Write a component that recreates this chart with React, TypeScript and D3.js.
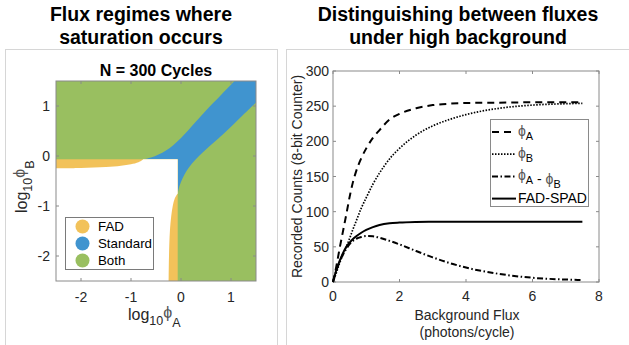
import React from "react";
import * as d3 from "d3";

// ---------- Left panel data (log10 flux coordinates) ----------
const regionNames = ["FAD", "Standard", "Both"];
const regionColors = ["#F2C25A", "#4094CF", "#99BF60"];
const logTicks = [-2, -1, 0, 1];
const satLevel = -0.066; // log10 flux where saturation starts
// Standard/Both boundary above the diagonal: [log10 phiA, log10 phiB]
const stdUpperA = [-0.75, -0.6, -0.45, -0.3, -0.15, 0.0, 0.15, 0.3, 0.5, 0.8, 1.07];
const stdUpperB = [-0.066, -0.03, 0.03, 0.11, 0.22, 0.36, 0.52, 0.69, 0.91, 1.22, 1.5];
// Standard/Both boundary below the diagonal
const stdLowerA = [-0.066, -0.03, 0.03, 0.11, 0.22, 0.36, 0.52, 0.69, 0.91, 1.22, 1.5];
const stdLowerB = [-0.75, -0.6, -0.45, -0.3, -0.15, 0.0, 0.15, 0.3, 0.5, 0.8, 1.07];
// FAD / none boundary (horizontal arm)
const fadHorizA = [-2.5, -2.0, -1.5, -1.2, -1.0, -0.85, -0.75];
const fadHorizB = [-0.246, -0.24, -0.222, -0.195, -0.165, -0.125, -0.066];
// FAD / none boundary (vertical arm)
const fadVertA = [-0.066, -0.125, -0.165, -0.195, -0.222, -0.24, -0.246];
const fadVertB = [-0.75, -0.85, -1.0, -1.2, -1.5, -2.0, -2.5];

// ---------- Right panel data ----------
const backgroundFlux = [0, 0.1, 0.2, 0.3, 0.4, 0.5, 0.6, 0.7, 0.85, 1.0, 1.2, 1.4, 1.7, 2.0, 2.5, 3.0, 3.5, 4.0, 5.0, 6.0, 7.0, 7.5];
const countsA = [0, 22, 48, 72, 96, 121, 142, 158, 176, 190, 205, 216, 231, 239, 247, 251.5, 253.5, 254.5, 255, 255.5, 255.5, 255.5];
const countsB = [0, 13, 27, 39, 50, 62, 75, 87, 105, 120, 139, 155, 175, 190, 209, 222, 231, 238, 247, 251.5, 253.5, 254];
const countsDiff = [0, 16, 29, 39, 47, 54, 58.5, 61.5, 64, 65.3, 65, 63, 58.5, 53.5, 44, 35, 27, 20.5, 11.5, 6, 3.5, 2.8];
const countsFad = [0, 17, 30, 41, 50, 56, 61, 65, 70, 74, 78, 81, 83.5, 84.5, 85.3, 85.6, 85.8, 85.8, 85.8, 85.8, 85.8, 85.8];
const fluxTicks = [0, 2, 4, 6, 8];
const countTicks = [0, 50, 100, 150, 200, 250, 300];

const FONT = "'Liberation Sans', Arial, sans-serif";
const AXIS = "#8a8a8a";
const TXT = "#262626";

export default function App() {
  // ----- left scales -----
  const xL = d3.scaleLinear().domain([-2.5, 1.5]).range([56, 256]);
  const yL = d3.scaleLinear().domain([-2.5, 1.5]).range([281, 81]);
  const lineL = d3
    .line<[number, number]>()
    .x((d) => xL(d[0]))
    .y((d) => yL(d[1]))
    .curve(d3.curveCatmullRom);
  const zip = (a: number[], b: number[]) => a.map((v, i) => [v, b[i]] as [number, number]);
  const P = (a: number, b: number) => `L${xL(a)},${yL(b)}`;

  const upper = zip(stdUpperA, stdUpperB);
  const lower = zip(stdLowerA, stdLowerB).reverse();
  const bluePath =
    lineL(upper)! +
    P(1.5, 1.5) +
    P(1.5, 1.07) +
    lineL(lower)!.replace(/^M/, "L") +
    P(satLevel, satLevel) +
    "Z";
  const whitePath =
    `M${xL(-2.5)},${yL(-2.5)}` +
    lineL(zip(fadHorizA, fadHorizB))!.replace(/^M/, "L") +
    P(satLevel, satLevel) +
    lineL(zip(fadVertA, fadVertB))!.replace(/^M/, "L") +
    "Z";

  // ----- right scales -----
  const xR = d3.scaleLinear().domain([0, 8]).range([333, 599]);
  const yR = d3.scaleLinear().domain([0, 300]).range([282, 71]);
  const lineR = d3
    .line<number>()
    .x((_, i) => xR(backgroundFlux[i]))
    .y((d) => yR(d))
    .curve(d3.curveMonotoneX);

  const series = [
    { vals: countsA, dash: "7,5", w: 2, sub: ["A"] },
    { vals: countsB, dash: "1.5,1.5", w: 1.7, sub: ["B"] },
    { vals: countsDiff, dash: "6,2.5,1.5,2.5", w: 2, sub: ["A", "B"] },
    { vals: countsFad, dash: "none", w: 2, sub: [] as string[] },
  ];

  const phi = (sub: string, key: string, size = 14) => (
    <React.Fragment key={key}>
      <tspan fill="#555">ϕ</tspan>
      <tspan fontSize={size * 0.78} dy={4}>
        {sub}
      </tspan>
      <tspan dy={-4}></tspan>
    </React.Fragment>
  );

  return (
    <svg
      width={629}
      height={345}
      style={{ position: "absolute", left: 0, top: 0, background: "#fff" }}
      fontFamily={FONT}
    >
      <defs>
        <clipPath id="clipL">
          <rect x={56} y={81} width={200} height={200} />
        </clipPath>
      </defs>

      {/* panel frames */}
      <rect x={5.5} y={49.5} width={272} height={310} fill="none" stroke="#d6d6d6" />
      <rect x={286.5} y={49.5} width={360} height={310} fill="none" stroke="#d6d6d6" />

      {/* titles */}
      <g fontWeight="bold" fontSize={19.5} textAnchor="middle" fill="#000">
        <text x={141} y={21}>Flux regimes where</text>
        <text x={141} y={44}>saturation occurs</text>
        <text x={458} y={21}>Distinguishing between fluxes</text>
        <text x={458} y={44}>under high background</text>
      </g>

      {/* ===== Left chart ===== */}
      <text x={156} y={76} textAnchor="middle" fontWeight="bold" fontSize={16} fill="#000">
        N = 300 Cycles
      </text>
      <g clipPath="url(#clipL)">
        <rect x={56} y={81} width={200} height={200} fill={regionColors[2]} />
        <path d={bluePath} fill={regionColors[1]} />
        <rect
          x={xL(-2.5)}
          y={yL(satLevel)}
          width={xL(satLevel) - xL(-2.5)}
          height={yL(-2.5) - yL(satLevel)}
          fill={regionColors[0]}
        />
        <path d={whitePath} fill="#fff" />
      </g>
      <rect x={56} y={81} width={200} height={200} fill="none" stroke={AXIS} strokeWidth={1} />
      {logTicks.map((t) => (
        <g key={"lt" + t} stroke={AXIS}>
          <line x1={xL(t)} x2={xL(t)} y1={281} y2={278} />
          <line x1={xL(t)} x2={xL(t)} y1={81} y2={84} />
          <line x1={56} x2={59} y1={yL(t)} y2={yL(t)} />
          <line x1={256} x2={253} y1={yL(t)} y2={yL(t)} />
        </g>
      ))}
      <g fontSize={14} fill={TXT}>
        {logTicks.map((t) => (
          <text key={"lx" + t} x={xL(t)} y={302} textAnchor="middle">
            {t}
          </text>
        ))}
        {logTicks.map((t) => (
          <text key={"ly" + t} x={50} y={yL(t) + 5} textAnchor="end">
            {t}
          </text>
        ))}
      </g>
      <text x={128} y={320} fontSize={16} fill={TXT}>
        log
        <tspan fontSize={12.5} dy={5}>10</tspan>
        <tspan dy={-7} fill="#555">ϕ</tspan>
        <tspan fontSize={12.5} dy={9}>A</tspan>
      </text>
      <text transform="translate(27,213) rotate(-90)" fontSize={16} fill={TXT}>
        log
        <tspan fontSize={12.5} dy={5}>10</tspan>
        <tspan dy={-7} fill="#555">ϕ</tspan>
        <tspan fontSize={12.5} dy={9}>B</tspan>
      </text>
      {/* left legend */}
      <rect x={65.5} y={217.5} width={88} height={52} fill="#fff" stroke="#7a7a7a" />
      {regionNames.map((n, i) => (
        <g key={n}>
          <circle cx={82.5} cy={226.5 + i * 17} r={7} fill={regionColors[i]} />
          <text x={98} y={231 + i * 17} fontSize={13.3} fill="#000">
            {n}
          </text>
        </g>
      ))}

      {/* ===== Right chart ===== */}
      <rect x={333} y={71} width={266} height={211} fill="none" stroke={AXIS} />
      {fluxTicks.map((t) => (
        <g key={"rx" + t} stroke={AXIS}>
          <line x1={xR(t)} x2={xR(t)} y1={282} y2={279} />
          <line x1={xR(t)} x2={xR(t)} y1={71} y2={74} />
        </g>
      ))}
      {countTicks.map((t) => (
        <g key={"ry" + t} stroke={AXIS}>
          <line x1={333} x2={336} y1={yR(t)} y2={yR(t)} />
          <line x1={599} x2={596} y1={yR(t)} y2={yR(t)} />
        </g>
      ))}
      <g fontSize={14} fill={TXT}>
        {fluxTicks.map((t) => (
          <text key={"rxl" + t} x={xR(t)} y={301} textAnchor="middle">
            {t}
          </text>
        ))}
        {countTicks.map((t) => (
          <text key={"ryl" + t} x={329} y={yR(t) + 5} textAnchor="end">
            {t}
          </text>
        ))}
      </g>
      <text x={467} y={320} textAnchor="middle" fontSize={14} fill={TXT}>
        Background Flux
      </text>
      <text x={467} y={337} textAnchor="middle" fontSize={14} fill={TXT}>
        (photons/cycle)
      </text>
      <text
        transform={`translate(302,${(71 + 282) / 2}) rotate(-90)`}
        textAnchor="middle"
        fontSize={14}
        fill={TXT}
      >
        Recorded Counts (8-bit Counter)
      </text>

      {series.map((s, i) => (
        <path
          key={"s" + i}
          d={lineR(s.vals)!}
          fill="none"
          stroke="#000"
          strokeWidth={s.w}
          strokeDasharray={s.dash}
        />
      ))}

      {/* right legend */}
      <rect x={490.5} y={119.5} width={98} height={87} fill="#fff" stroke="#8a8a8a" />
      {series.map((s, i) => {
        const y = 132 + i * 22.2;
        return (
          <g key={"lg" + i}>
            <line x1={492} x2={516} y1={y} y2={y} stroke="#000" strokeWidth={s.w} strokeDasharray={s.dash} />
            <text x={518} y={y + 4} fontSize={14} fill="#000">
              {i === 0 && phi("A", "a")}
              {i === 1 && phi("B", "b")}
              {i === 2 && (
                <>
                  {phi("A", "c1")}
                  <tspan> - </tspan>
                  {phi("B", "c2")}
                </>
              )}
              {i === 3 && "FAD-SPAD"}
            </text>
          </g>
        );
      })}
    </svg>
  );
}
